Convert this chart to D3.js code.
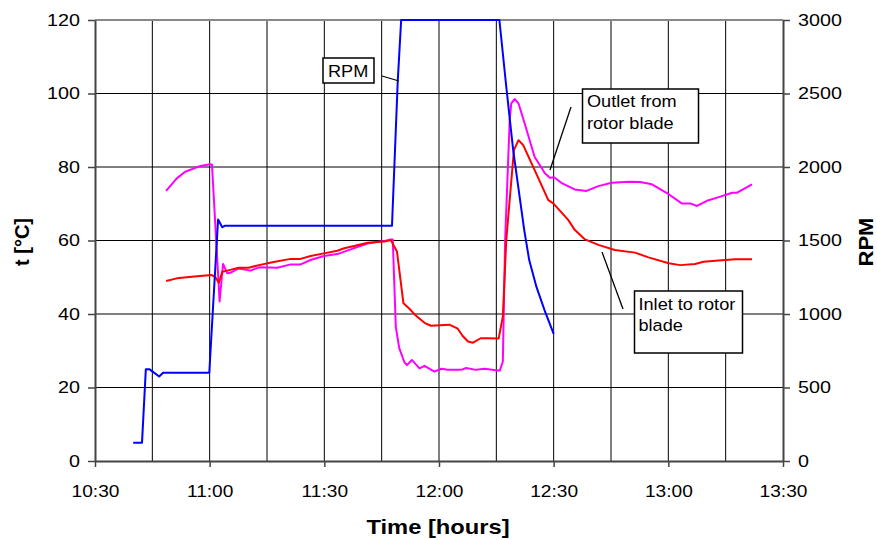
<!DOCTYPE html>
<html><head><meta charset="utf-8">
<script src="https://cdn.jsdelivr.net/npm/d3@7"></script>
<style>
body{margin:0;background:#fff}
svg{display:block}
text{font-family:"Liberation Sans",Arial,Helvetica,sans-serif;fill:#000}
</style>
</head><body>
<svg id="c" width="877" height="540"></svg>
<script>
// ---- data (time in minutes since midnight) ----
const timeTicks = [630, 660, 690, 720, 750, 780, 810];
const timeTickLabels = ["10:30", "11:00", "11:30", "12:00", "12:30", "13:00", "13:30"];
const tempTicks = [0, 20, 40, 60, 80, 100, 120];
const rpmTicks = [0, 500, 1000, 1500, 2000, 2500, 3000];

const rpmTime  = [640.0, 642.3, 643.3, 644.2, 645.0, 646.8, 647.8, 652.0, 656.0, 659.9, 662.2, 663.3, 663.9, 707.7, 709.2, 710.1, 735.8, 737.6, 739.4, 742.3, 743.6, 745.5, 747.6, 750.0];
const rpmValue = [125, 125, 625, 625, 610, 575, 600, 600, 600, 600, 1643, 1590, 1600, 1600, 2580, 3000, 3000, 2546, 2116, 1571, 1367, 1184, 1027, 865];

const outletTime = [648.6, 651.4, 653.6, 657.6, 659.7, 660.6, 661.8, 662.6, 663.5, 664.6, 665.4, 667.6, 670.7, 672.9, 677.7, 681.2, 683.8, 686.4, 689.9, 693.4, 696.9, 701.3, 705.7, 707.4, 707.9, 708.7, 709.6, 710.9, 711.6, 712.9, 714.9, 716.2, 718.8, 720.6, 722.3, 725.8, 727.1, 729.7, 731.9, 735.4, 735.9, 736.7, 737.3, 738.5, 738.9, 739.8, 740.8, 742.4, 745.0, 747.7, 749.0, 750.1, 752.0, 755.5, 758.6, 761.7, 765.2, 769.6, 772.6, 775.7, 780.1, 783.5, 785.7, 787.5, 790.1, 793.2, 796.7, 798.0, 801.9];
const outletTemp = [73.5, 76.9, 78.7, 80.3, 80.7, 80.7, 58.3, 43.4, 53.6, 51.1, 51.2, 52.4, 51.8, 52.7, 52.6, 53.5, 53.5, 54.7, 55.8, 56.3, 57.6, 59.2, 59.9, 60.3, 60.3, 36.5, 30.7, 27.0, 26.1, 27.5, 25.2, 25.9, 24.3, 25.1, 24.8, 24.8, 25.3, 24.8, 25.1, 24.6, 24.6, 27.0, 60.1, 92.8, 97.3, 98.5, 97.3, 91.9, 82.8, 78.3, 77.1, 77.2, 75.7, 73.9, 73.5, 74.8, 75.7, 76.0, 75.9, 75.3, 72.6, 70.1, 70.1, 69.4, 70.8, 71.8, 73.0, 73.0, 75.3];

const inletTime = [648.6, 651.4, 656.7, 660.6, 661.5, 662.4, 663.3, 664.6, 667.6, 670.2, 672.9, 676.4, 681.2, 683.8, 686.4, 689.9, 693.4, 695.2, 697.8, 701.3, 705.7, 707.4, 709.0, 710.7, 712.2, 714.0, 716.2, 717.9, 722.7, 724.9, 726.2, 727.6, 728.9, 730.9, 732.8, 735.6, 736.7, 737.6, 739.6, 740.8, 742.0, 745.0, 748.6, 749.9, 753.8, 755.5, 758.2, 761.7, 766.0, 771.3, 774.8, 780.1, 783.1, 787.0, 789.2, 792.3, 797.5, 801.9];
const inletTemp = [49.0, 49.7, 50.3, 50.6, 50.0, 48.5, 51.5, 51.8, 52.6, 52.6, 53.3, 54.1, 55.0, 55.0, 55.8, 56.5, 57.2, 57.9, 58.5, 59.4, 59.7, 60.1, 57.0, 42.9, 41.5, 39.5, 37.6, 36.8, 37.1, 36.0, 34.0, 32.5, 32.2, 33.4, 33.4, 33.3, 39.3, 60.1, 84.6, 87.3, 86.0, 79.2, 71.0, 70.1, 65.6, 62.9, 60.3, 58.8, 57.4, 56.7, 55.4, 53.8, 53.3, 53.6, 54.2, 54.5, 54.9, 54.9];

// ---- layout ----
const svg = d3.select("#c");
const L = 95, R = 783, T = 20, B = 461;
const SX = 1.16; // horizontal stretch of the original's fonts

const x = d3.scaleLinear().domain([630, 810]).range([L, R]);
const yT = d3.scaleLinear().domain([0, 120]).range([B, T]);
const yR = d3.scaleLinear().domain([0, 3000]).range([B, T]);

// gridlines
const grid = svg.append("g");
d3.range(645, 810, 15).forEach(t => {
  grid.append("line").attr("x1", x(t)).attr("x2", x(t)).attr("y1", T).attr("y2", B)
    .attr("stroke", "#000").attr("stroke-width", 1);
});
tempTicks.filter(v => v > 0 && v < 120).forEach(v => {
  grid.append("line").attr("x1", L).attr("x2", R).attr("y1", yT(v)).attr("y2", yT(v))
    .attr("stroke", "#000").attr("stroke-width", 1);
});
grid.append("line").attr("x1", L).attr("x2", R).attr("y1", T).attr("y2", T)
  .attr("stroke", "#888").attr("stroke-width", 2);

// axes
function styleAxis(g) {
  g.select(".domain").attr("stroke", "#444").attr("stroke-width", 2);
  g.selectAll(".tick line").attr("stroke", "#444").attr("stroke-width", 1.5);
  g.selectAll("text").attr("font-size", 17).attr("font-family", '"Liberation Sans",Arial,sans-serif').attr("fill", "#000");
}
const ax = svg.append("g").attr("transform", `translate(0,${B})`)
  .call(d3.axisBottom(x).tickValues(timeTicks).tickFormat((d, i) => timeTickLabels[i]).tickSize(6).tickSizeOuter(0).tickPadding(18));
styleAxis(ax);
ax.selectAll("text").attr("font-size", 16.5).attr("transform", `scale(${SX},1)`);

const ayl = svg.append("g").attr("transform", `translate(${L},0)`)
  .call(d3.axisLeft(yT).tickValues(tempTicks).tickFormat(d3.format("d")).tickSize(7).tickSizeOuter(0).tickPadding(7));
styleAxis(ayl);
ayl.selectAll("text").attr("x", -15 / SX).attr("transform", `scale(${SX},1)`);

const ayr = svg.append("g").attr("transform", `translate(${R},0)`)
  .call(d3.axisRight(yR).tickValues(rpmTicks).tickFormat(d3.format("d")).tickSize(7).tickSizeOuter(0).tickPadding(8));
styleAxis(ayr);
ayr.selectAll("text").attr("x", 15 / SX).attr("transform", `scale(${SX},1)`);

// axis titles
svg.append("text").attr("transform", `translate(438,534) scale(1.13,1)`)
  .attr("text-anchor", "middle").attr("font-size", 21).attr("font-weight", "bold").text("Time [hours]");
svg.append("text").attr("transform", `translate(29,242) rotate(-90)`)
  .attr("text-anchor", "middle").attr("font-size", 20).attr("font-weight", "bold").text("t [°C]");
svg.append("text").attr("transform", `translate(873,242) rotate(-90) scale(1.1,1)`)
  .attr("text-anchor", "middle").attr("font-size", 20).attr("font-weight", "bold").text("RPM");

// series
const plot = svg.append("g");
plot.append("path").datum(d3.zip(outletTime, outletTemp))
  .attr("d", d3.line().x(d => x(d[0])).y(d => yT(d[1])))
  .attr("fill", "none").attr("stroke", "#ff00ff").attr("stroke-width", 2).attr("stroke-linejoin", "round");
plot.append("path").datum(d3.zip(inletTime, inletTemp))
  .attr("d", d3.line().x(d => x(d[0])).y(d => yT(d[1])))
  .attr("fill", "none").attr("stroke", "#ff0000").attr("stroke-width", 2).attr("stroke-linejoin", "round");
plot.append("path").datum(d3.zip(rpmTime, rpmValue))
  .attr("d", d3.line().x(d => x(d[0])).y(d => yR(d[1])))
  .attr("fill", "none").attr("stroke", "#0000ff").attr("stroke-width", 2).attr("stroke-linejoin", "round");

// annotations
function callout(box, lines, leader, baselines, tx) {
  const g = svg.append("g");
  g.append("line").attr("x1", leader[0]).attr("y1", leader[1]).attr("x2", leader[2]).attr("y2", leader[3])
    .attr("stroke", "#000").attr("stroke-width", 1.3);
  g.append("rect").attr("x", box[0]).attr("y", box[1]).attr("width", box[2]).attr("height", box[3])
    .attr("fill", "#fff").attr("stroke", "#000").attr("stroke-width", 1.5);
  lines.forEach((s, i) => {
    g.append("text").attr("transform", `translate(${tx},${baselines[i]}) scale(1.1,1)`)
      .attr("font-size", 16.5).text(s);
  });
}
callout([323, 58, 51, 25], ["RPM"], [382, 76, 399, 81], [76.5], 328);
callout([582.5, 89, 116, 54], ["Outlet from", "rotor blade"], [571, 107, 550, 170], [107.3, 128.5], 587);
callout([634.5, 291, 108, 62], ["Inlet to rotor", "blade"], [602, 252, 623, 309], [309.5, 331], 638.5);
</script>
</body></html>
